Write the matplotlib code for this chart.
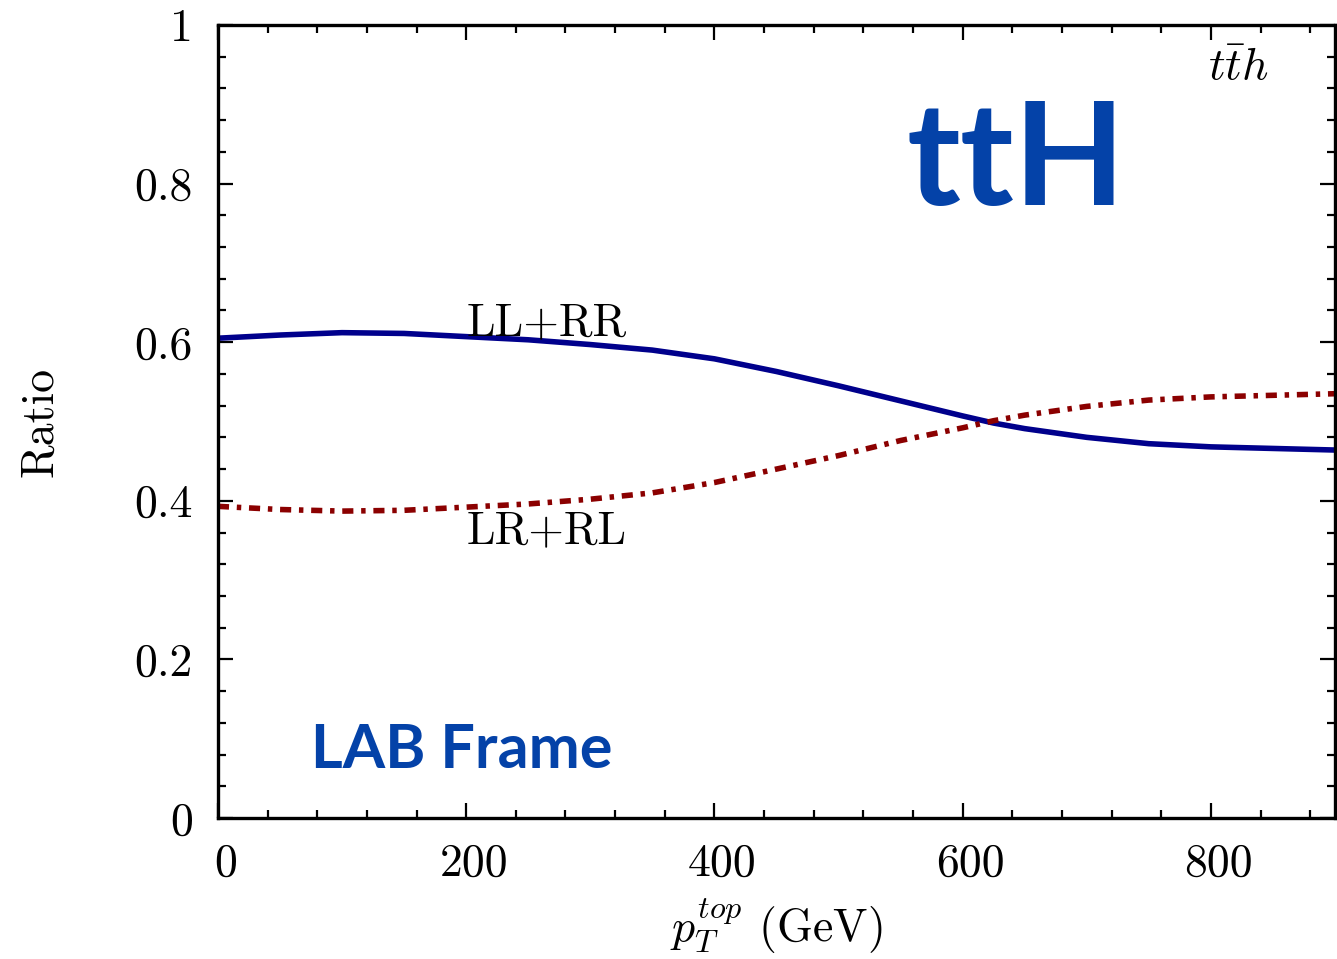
import matplotlib
matplotlib.use("Agg")
import matplotlib.pyplot as plt
import matplotlib.transforms as mtransforms
from matplotlib.ticker import MultipleLocator, FuncFormatter

plt.rcParams['font.family'] = 'serif'
plt.rcParams['font.serif'] = ['cmr10']
plt.rcParams['mathtext.fontset'] = 'cm'
plt.rcParams['axes.unicode_minus'] = False

# values
pt_top = [0, 50, 100, 150, 200, 250, 300, 350, 400, 450, 500,
          550, 600, 625, 650, 700, 750, 800, 850, 900]
ll_rr = [0.605, 0.609, 0.612, 0.611, 0.607, 0.603, 0.597, 0.590, 0.579, 0.563, 0.545,
         0.526, 0.507, 0.498, 0.491, 0.480, 0.472, 0.468, 0.466, 0.464]
lr_rl = [0.393, 0.389, 0.387, 0.388, 0.392, 0.396, 0.402, 0.410, 0.423, 0.440, 0.457,
         0.476, 0.492, 0.501, 0.508, 0.519, 0.527, 0.531, 0.533, 0.535]

fig = plt.figure(figsize=(13.37, 9.59), dpi=100)
ax = fig.add_axes([0.163, 0.147, 0.8355, 0.827])

ax.plot(pt_top, ll_rr, color='#00008c', lw=4.0, solid_capstyle='butt', solid_joinstyle='round')
ax.plot(pt_top, lr_rl, color='#8b0000', lw=4.0,
        linestyle=(0, (2.0, 1.4, 0.8, 1.4)))

ax.set_xlim(0, 900)
ax.set_ylim(0, 1)
ax.xaxis.set_major_locator(MultipleLocator(200))
ax.xaxis.set_minor_locator(MultipleLocator(40))
ax.yaxis.set_major_locator(MultipleLocator(0.2))
ax.yaxis.set_minor_locator(MultipleLocator(0.04))
ax.yaxis.set_major_formatter(FuncFormatter(lambda v, p: '%g' % round(v, 2)))
ax.xaxis.set_major_formatter(FuncFormatter(lambda v, p: '%g' % v))

ax.tick_params(which='both', direction='in', top=True, right=True, width=1.6)
ax.tick_params(which='major', length=11, labelsize=33, pad=18)
ax.tick_params(which='minor', length=5.5)
for s in ax.spines.values():
    s.set_linewidth(2.4)

# x tick labels sit a little to the right of their ticks
shift = mtransforms.ScaledTranslation(8 / 100, 0, fig.dpi_scale_trans)
for lab in ax.get_xticklabels():
    lab.set_transform(lab.get_transform() + shift)

ax.set_xlabel(r'$p_T^{top}$ (GeV)', fontsize=33, labelpad=9)
ax.set_ylabel('Ratio', fontsize=33, labelpad=53)

ax.text(265, 0.609, 'LL+RR', fontsize=33, ha='center', va='baseline')
ax.text(265, 0.347, 'LR+RL', fontsize=33, ha='center', va='baseline')
ax.text(822, 0.93, r'$t\bar{t}h$', fontsize=33, ha='center', va='baseline')

ax.text(643, 0.825, 'ttH', fontsize=104, color='#0442a8', ha='center', va='center',
        family='Lato', fontweight='bold')
ax.text(196, 0.086, 'LAB Frame', fontsize=44, color='#0442a8', ha='center', va='center',
        family='Lato', fontweight='bold')

fig.savefig('out.png', dpi=100)
